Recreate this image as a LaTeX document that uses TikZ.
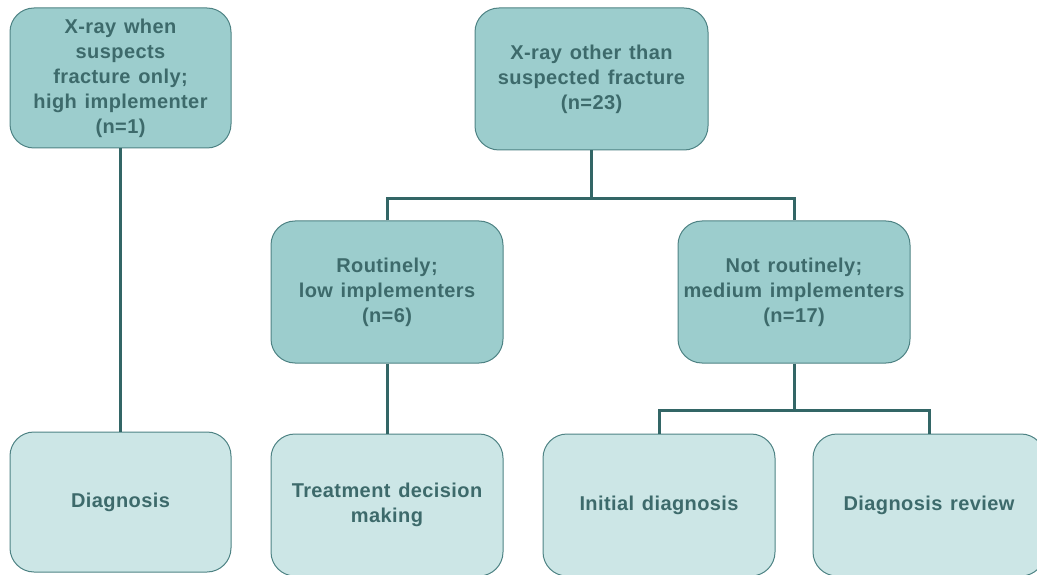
\documentclass[tikz,border=0pt]{standalone}
\usepackage{fontspec}
\setmainfont{Liberation Sans}[LetterSpace=2,WordSpace=1.3]
\definecolor{darkfill}{HTML}{9CCDCD}
\definecolor{lightfill}{HTML}{CCE6E6}
\definecolor{boxborder}{HTML}{4E8384}
\definecolor{linkcol}{HTML}{336666}
\definecolor{txtcol}{HTML}{3D6A6B}
\begin{document}
\begin{tikzpicture}[x=1pt,y=-1pt,
  base/.style={draw=boxborder,line width=1pt,rounded corners=24pt,align=center,
    font=\fontsize{20}{25}\selectfont\bfseries,text=txtcol,inner sep=0pt},
  dbox/.style={base,fill=darkfill},
  lbox/.style={base,fill=lightfill},
  link/.style={draw=linkcol,line width=3pt}]
\useasboundingbox (0,0) rectangle (1037,575);
\node[dbox,minimum width=221pt,minimum height=140pt] (A) at (120.5,78) {X-ray when\\suspects\\fracture only;\\high implementer\\(n=1)};
\node[dbox,minimum width=233pt,minimum height=142pt] (B) at (591.5,79) {X-ray other than\\suspected fracture\\(n=23)};
\node[dbox,minimum width=232pt,minimum height=142pt] (C) at (387,292) {Routinely;\\low implementers\\(n=6)};
\node[dbox,minimum width=232pt,minimum height=142pt] (D) at (794,292) {Not routinely;\\medium implementers\\(n=17)};
\node[lbox,minimum width=221pt,minimum height=140pt] (E) at (120.5,502) {Diagnosis};
\node[lbox,minimum width=232pt,minimum height=142pt] (F) at (387,505) {Treatment decision\\making};
\node[lbox,minimum width=232pt,minimum height=142pt] (G) at (659,505) {Initial diagnosis};
\node[lbox,minimum width=232pt,minimum height=142pt] (H) at (929,505) {Diagnosis review};
\coordinate (j1) at (591.5,199);
\coordinate (j2) at (794,410);
\draw[link] (A.south) -- (E.north);
\draw[link] (B.south) -- (j1);
\draw[link] (C.north) -- (C.north |- j1) -- (D.north |- j1) -- (D.north);
\draw[link] (C.south) -- (F.north);
\draw[link] (D.south) -- (j2);
\draw[link] (G.north) -- (G.north |- j2) -- (H.north |- j2) -- (H.north);
\end{tikzpicture}
\end{document}
